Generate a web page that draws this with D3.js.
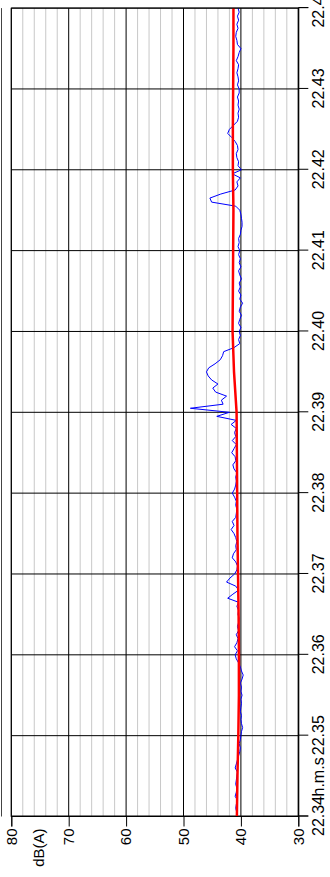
<!DOCTYPE html>
<html>
<head>
<meta charset="utf-8">
<script src="https://cdn.jsdelivr.net/npm/d3@7"></script>
<style>
  html, body { margin: 0; padding: 0; background: #fff; overflow: hidden; }
  svg { display: block; }
  text { font-family: Arial, "Liberation Sans", sans-serif; fill: #000; }
</style>
</head>
<body>
<svg id="chart" width="330" height="877"></svg>
<script>
// Time axis labels, one per minute (h.m)
const timeLabels = ["22.34", "22.35", "22.36", "22.37", "22.38", "22.39",
                    "22.40", "22.41", "22.42", "22.43", "22.44"];
const timeUnit = "h.m.s";

// Level axis
const dbTicks = [30, 40, 50, 60, 70, 80];
const dbMinorTicks = [32, 34, 36, 38, 42, 44, 46, 48, 52, 54, 56, 58,
                      62, 64, 66, 68, 72, 74, 76, 78];
const dbUnit = "dB(A)";

// Instantaneous level, one sample every 3 s from 22.34.00
const sampleStep = 3;
const levelDb = [
  40.8, 40.7, 40.9, 40.8, 40.6, 41.0, 40.8, 40.7, 40.9, 40.8,
  40.7, 40.6, 41.0, 40.8, 40.6, 40.4, 40.2, 40.1, 40.3, 40.1,
  40.0, 39.9, 39.7, 39.9, 40.0, 39.9, 40.1, 40.0, 39.9, 40.0,
  39.8, 40.0, 39.9, 40.1, 39.8, 39.6, 39.9, 40.1, 40.4, 40.8,
  41.0, 40.6, 41.1, 40.7, 40.5, 40.8, 40.4, 40.6, 40.4, 40.3,
  40.5, 40.4, 40.7, 40.4, 42.3, 41.4, 40.4, 40.9, 42.5, 41.9,
  41.1, 40.7, 40.6, 40.9, 41.5, 41.3, 40.8, 40.9, 40.7, 40.9,
  41.2, 41.7, 41.2, 41.5, 40.9, 40.8, 40.7, 40.9, 40.8, 41.1,
  41.5, 41.1, 40.9, 40.8, 40.9, 40.7, 41.2, 41.4, 40.9, 41.0,
  41.6, 41.2, 40.8, 41.5, 40.9, 41.1, 40.8, 41.7, 40.8, 44.2,
  42.0, 48.8, 43.1, 43.4, 42.5, 44.4, 44.9, 44.0, 45.1, 45.7,
  46.0, 45.6, 44.5, 43.6, 43.2, 43.0, 41.2, 40.2, 40.4, 40.1,
  40.3, 40.0, 40.4, 40.2, 39.9, 40.3, 40.1, 39.7, 40.2, 40.0,
  40.4, 40.1, 40.3, 39.9, 40.2, 40.4, 40.0, 40.3, 40.1, 40.4,
  40.2, 40.5, 40.3, 40.4, 40.1, 40.0, 39.8, 39.8, 39.9, 40.0,
  40.2, 40.9, 45.1, 45.4, 43.5, 41.0, 40.5, 40.7, 40.1, 41.5,
  39.9, 40.5, 40.4, 40.7, 40.8, 40.5, 40.6, 41.0, 41.6, 42.3,
  42.0, 41.3, 40.6, 40.4, 40.5, 40.3, 40.5, 40.4, 40.6, 40.3,
  40.3, 40.6, 40.4, 40.5, 40.7, 40.5, 40.4, 40.8, 40.5, 40.3,
  40.0, 40.6, 40.7, 40.9, 40.8, 40.5, 40.7, 40.4, 40.6, 40.3,
  40.5
];

// Running equivalent level, one value every 30 s
const leqStep = 30;
const leqDb = [
  40.7, 40.6, 40.45, 40.35, 40.35, 40.4, 40.5, 40.6, 40.65, 40.7,
  40.75, 41.2, 41.45, 41.4, 41.35, 41.3, 41.4, 41.4, 41.35, 41.3,
  41.3
];

const W = 877, H = 330;            // drawing frame before rotation
const svg = d3.select("#chart");
const g = svg.append("g").attr("transform", `translate(0,${W}) rotate(-90)`);

const x = d3.scaleLinear().domain([0, 600]).range([60.5, 868.9]);
const y = d3.scaleLinear().domain([30, 80]).range([298.3, 11.3]);
const timeTicks = timeLabels.map((_, i) => i * 60);

// outer frame line on the far side of the level labels
g.append("line")
  .attr("x1", x(0)).attr("x2", x(600))
  .attr("y1", 1.5).attr("y2", 1.5)
  .attr("stroke", "#444").attr("stroke-width", 1);

// minor level grid
g.append("g").selectAll("line").data(dbMinorTicks).join("line")
  .attr("x1", x(0)).attr("x2", x(600))
  .attr("y1", d => y(d)).attr("y2", d => y(d))
  .attr("stroke", "#c8c8c8").attr("stroke-width", 1);

// major level grid
g.append("g").selectAll("line").data(dbTicks).join("line")
  .attr("x1", x(0)).attr("x2", x(600))
  .attr("y1", d => y(d)).attr("y2", d => y(d))
  .attr("stroke", "#000").attr("stroke-width", 1);

// minute grid
g.append("g").selectAll("line").data(timeTicks).join("line")
  .attr("x1", d => x(d)).attr("x2", d => x(d))
  .attr("y1", y(80)).attr("y2", y(30))
  .attr("stroke", "#000").attr("stroke-width", 1);

// axes
const xAxis = d3.axisBottom(x)
  .tickValues(timeTicks)
  .tickFormat((d, i) => timeLabels[i])
  .tickSize(10).tickPadding(4);
const xg = g.append("g").attr("transform", `translate(0,${y(30)})`).call(xAxis);
xg.selectAll("text").style("font-size", "16px");
xg.selectAll("line, path").attr("stroke", "#000");

const yAxis = d3.axisLeft(y)
  .tickValues(dbTicks)
  .tickSize(10).tickPadding(2);
const yg = g.append("g").attr("transform", `translate(${x(0)},0)`).call(yAxis);
yg.selectAll("text").style("font-size", "15px");
yg.selectAll("line, path").attr("stroke", "#000");

// unit labels
const firstLabel = xg.select(".tick text").node();
const firstW = firstLabel.getComputedTextLength();
xg.append("text")
  .attr("x", x(0) + firstW / 2)
  .attr("y", 14)
  .attr("dy", "0.71em")
  .attr("text-anchor", "start")
  .style("font-size", "16px")
  .style("fill", "#000")
  .text(timeUnit);

g.append("text")
  .attr("x", x(0) - 12)
  .attr("y", 43.5)
  .attr("text-anchor", "end")
  .style("font-size", "15px")
  .text(dbUnit);

// instantaneous level
const lineLevel = d3.line()
  .x((d, i) => x(i * sampleStep))
  .y(d => y(d));
g.append("path")
  .datum(levelDb)
  .attr("d", lineLevel)
  .attr("fill", "none")
  .attr("stroke", "#0000ff")
  .attr("stroke-width", 1);

// running Leq
const lineLeq = d3.line()
  .x((d, i) => x(i * leqStep))
  .y(d => y(d));
g.append("path")
  .datum(leqDb)
  .attr("d", lineLeq)
  .attr("fill", "none")
  .attr("stroke", "#ff0000")
  .attr("stroke-width", 2.5);

// plot frame
g.append("rect")
  .attr("x", x(0)).attr("y", y(80))
  .attr("width", x(600) - x(0)).attr("height", y(30) - y(80))
  .attr("fill", "none").attr("stroke", "#000").attr("stroke-width", 1);
</script>
</body>
</html>
